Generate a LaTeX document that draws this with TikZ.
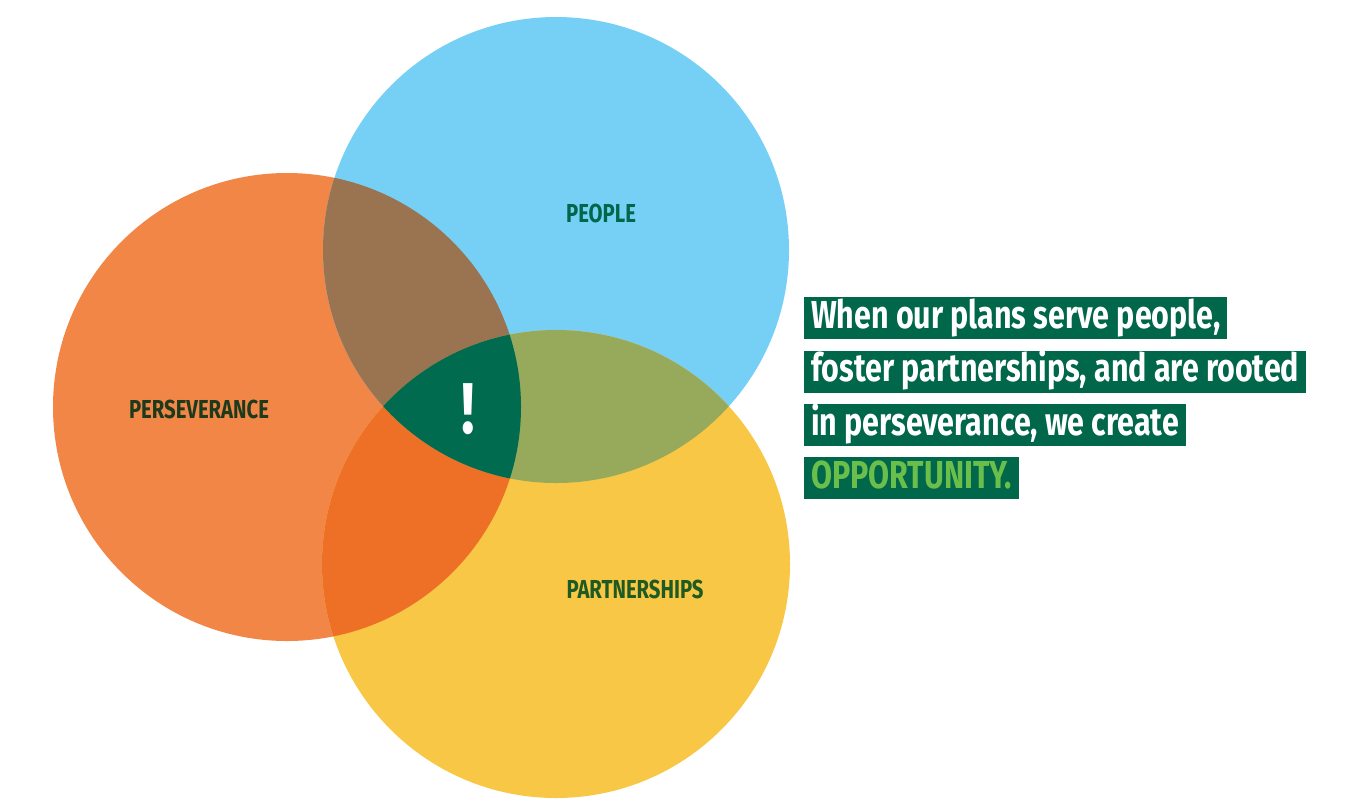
\documentclass[tikz,border=0pt]{standalone}
\usepackage{fontspec}
\newfontfamily\condfont[FakeStretch=0.78]{Fira Sans}
\usetikzlibrary{positioning}

\definecolor{perseveranceorange}{HTML}{F28646}
\definecolor{peopleblue}{HTML}{76D0F5}
\definecolor{partneryellow}{HTML}{F8C745}
\definecolor{mixbrown}{HTML}{9A7350}
\definecolor{mixorange}{HTML}{EE7026}
\definecolor{mixolive}{HTML}{97AA5B}
\definecolor{coregreen}{HTML}{006B4F}
\definecolor{boxgreen}{HTML}{00674B}
\definecolor{brightgreen}{HTML}{6ABF4B}
\definecolor{darklabel}{HTML}{1E3A1C}
\definecolor{forestlabel}{HTML}{1F5A22}

\begin{document}
\begin{tikzpicture}[
  x=1pt, y=-1pt,
  circlelbl/.style={
    font=\condfont\bfseries\fontsize{26}{26}\selectfont,
    inner sep=0pt
  },
  txtline/.style={
    fill=boxgreen,
    text=white,
    font=\condfont\bfseries\fontsize{39}{39}\selectfont,
    text height=29pt,
    text depth=9pt,
    inner xsep=7pt,
    inner ysep=2pt,
    anchor=north west
  }
]
\useasboundingbox (0,0) rectangle (1347,807);

% Circle centres
\coordinate (perseverance) at (287,407);
\coordinate (people) at (556,250);
\coordinate (partnerships) at (556,564);

% Circles
\fill[perseveranceorange] (perseverance) circle[radius=234];
\fill[peopleblue] (people) circle[radius=233];
\fill[partneryellow] (partnerships) circle[radius=234];

% Overlaps
\begin{scope}
  \clip (perseverance) circle[radius=234];
  \fill[mixbrown] (people) circle[radius=233];
  \fill[mixorange] (partnerships) circle[radius=234];
\end{scope}
\begin{scope}
  \clip (people) circle[radius=233];
  \fill[mixolive] (partnerships) circle[radius=234];
  \clip (partnerships) circle[radius=234];
  \fill[coregreen] (perseverance) circle[radius=234];
\end{scope}

% Labels
\node[circlelbl, text=boxgreen] (peoplelbl) at (601,213) {PEOPLE};
\node[circlelbl, text=darklabel] (perslbl) at (199,409) {PERSEVERANCE};
\node[circlelbl, text=forestlabel] (partlbl) at (635,589) {PARTNERSHIPS};
\node[text=white, font=\condfont\bfseries\fontsize{72}{72}\selectfont, inner sep=0pt] (bang) at (468,409) {!};

% Statement
\node[txtline] (line1) at (804,297) {When our plans serve people,};
\node[txtline, below=11pt of line1.south west, anchor=north west] (line2) {foster partnerships, and are rooted};
\node[txtline, below=11pt of line2.south west, anchor=north west] (line3) {in perseverance, we create};
\node[txtline, below=11pt of line3.south west, anchor=north west, text=brightgreen] (line4) {OPPORTUNITY.};

\end{tikzpicture}
\end{document}
